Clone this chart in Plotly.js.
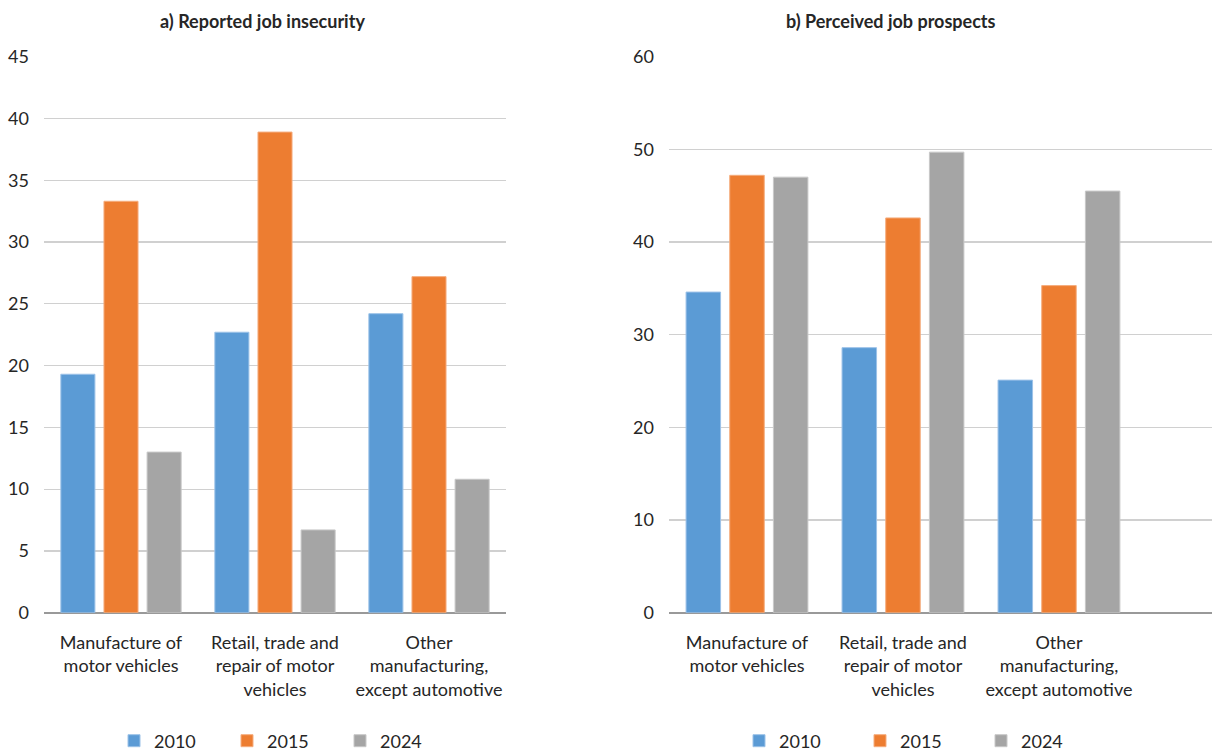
<!DOCTYPE html>
<html>
<head>
<meta charset="utf-8">
<script src="https://cdn.plot.ly/plotly-3.0.1.min.js"></script>
<style>
  html, body { margin: 0; padding: 0; background: #ffffff; }
  #chart { width: 1213px; height: 751px; }
</style>
</head>
<body>
<div id="chart"></div>
<script>
// Sector categories shared by both panels
const categories = [
  'Manufacture of<br>motor vehicles',
  'Retail, trade and<br>repair of motor<br>vehicles',
  'Other<br>manufacturing,<br>except automotive'
];
const years = ['2010', '2015', '2024'];

// a) Reported job insecurity (%)
const insecurity2010 = [19.3, 22.7, 24.2];
const insecurity2015 = [33.3, 38.9, 27.2];
const insecurity2024 = [13.0, 6.7, 10.8];

// b) Perceived job prospects (%)
const prospects2010 = [34.6, 28.6, 25.1];
const prospects2015 = [47.2, 42.6, 35.3];
const prospects2024 = [47.0, 49.7, 45.5];

const panelTitles = ['a) Reported job insecurity', 'b) Perceived job prospects'];

const yearColors = ['#5B9BD5', '#ED7D31', '#A5A5A5'];
const yearEdges = ['#9cc2e8', '#f5ad7e', '#c8c8c8'];
const FONT = 'Lato, "Source Sans Pro", Roboto, sans-serif';
const W = 1213, H = 751;

const insecurity = [insecurity2010, insecurity2015, insecurity2024];
const prospects = [prospects2010, prospects2015, prospects2024];

const traces = [];
years.forEach((yr, i) => {
  traces.push({
    type: 'bar', name: yr, x: categories, y: insecurity[i],
    xaxis: 'x', yaxis: 'y', legend: 'legend',
    marker: { color: yearColors[i], line: { color: yearEdges[i], width: 1 } },
    hoverinfo: 'x+y+name'
  });
});
years.forEach((yr, i) => {
  traces.push({
    type: 'bar', name: yr, x: categories, y: prospects[i],
    xaxis: 'x2', yaxis: 'y2', legend: 'legend2',
    marker: { color: yearColors[i], line: { color: yearEdges[i], width: 1 } },
    hoverinfo: 'x+y+name'
  });
});

const yDomain = [(H - 612.7) / H, (H - 56.7) / H];
const tickFont = { family: FONT, size: 18, color: '#262626' };

const xCommon = {
  type: 'category', showgrid: false, zeroline: false,
  showline: false, ticks: '', tickfont: tickFont, ticklabelstandoff: 17,
  automargin: false, fixedrange: true
};
const yCommon = {
  showgrid: true, gridcolor: '#d0d0d0', gridwidth: 1.2,
  zeroline: true, zerolinecolor: '#999999', zerolinewidth: 2,
  showline: false, ticks: '', tickfont: tickFont, ticklabelstandoff: 14,
  automargin: false, domain: yDomain, fixedrange: true
};

const legendCommon = {
  orientation: 'h', yanchor: 'middle', y: (H - 741) / H,
  xanchor: 'left', font: { family: FONT, size: 18, color: '#262626' },
  bgcolor: 'rgba(0,0,0,0)', entrywidthmode: 'pixels'
};

const layout = {
  width: W, height: H,
  margin: { l: 0, r: 0, t: 0, b: 0, autoexpand: false },
  paper_bgcolor: '#ffffff', plot_bgcolor: '#ffffff',
  barmode: 'group', bargap: 0.16, bargroupgap: 0.21,
  font: { family: FONT, color: '#262626' },
  xaxis: Object.assign({}, xCommon, { domain: [44 / W, 506 / W], range: [-0.5, 2.5], anchor: 'y' }),
  yaxis: Object.assign({}, yCommon, { range: [0, 45], dtick: 5, anchor: 'x' }),
  xaxis2: Object.assign({}, xCommon, { domain: [669 / W, 1212 / W], range: [-0.5, 2.981], anchor: 'y2' }),
  yaxis2: Object.assign({}, yCommon, { range: [0, 60], dtick: 10, anchor: 'x2' }),
  legend: Object.assign({}, legendCommon, { x: 114 / W, entrywidth: 68 }),
  legend2: Object.assign({}, legendCommon, { x: 739 / W, entrywidth: 76 }),
  showlegend: true,
  annotations: [
    { text: '<b>' + panelTitles[0] + '</b>', xref: 'paper', yref: 'paper',
      x: 262 / W, y: (H - 21) / H, xanchor: 'center', yanchor: 'middle',
      showarrow: false, font: { family: FONT, size: 18, color: '#262626' } },
    { text: '<b>' + panelTitles[1] + '</b>', xref: 'paper', yref: 'paper',
      x: 891 / W, y: (H - 21) / H, xanchor: 'center', yanchor: 'middle',
      showarrow: false, font: { family: FONT, size: 18, color: '#262626' } }
  ]
};

Plotly.newPlot('chart', traces, layout, { displayModeBar: false, staticPlot: true });
</script>
</body>
</html>
